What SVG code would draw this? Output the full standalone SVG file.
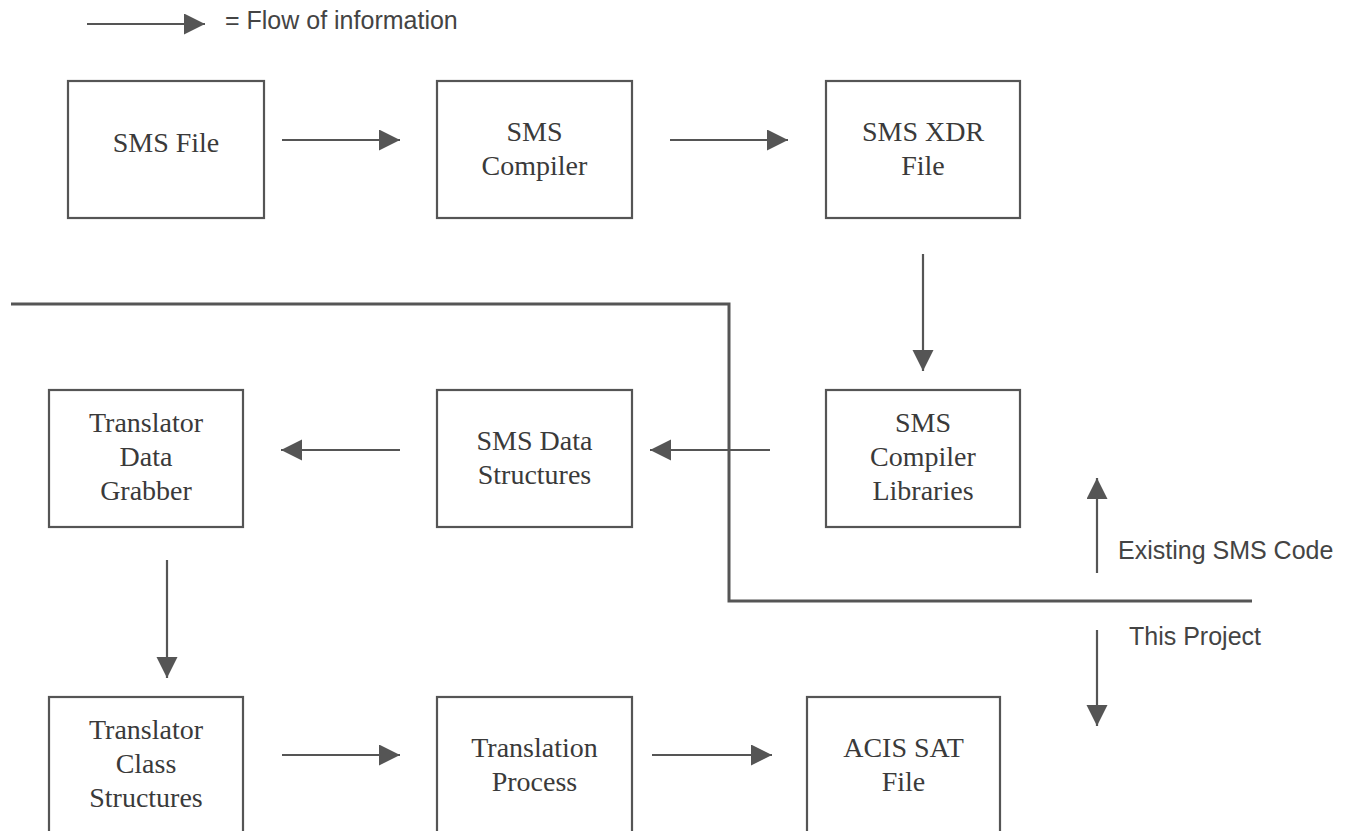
<svg xmlns="http://www.w3.org/2000/svg" width="1354" height="831" viewBox="0 0 1354 831">
  <style>
    .box { fill: none; stroke: #555; stroke-width: 2.2; }
    .lbl { font-family: "Liberation Serif", "Times New Roman", serif; font-size: 28px; fill: #3a3a3a; text-anchor: middle; }
    .note { font-family: "Liberation Sans", Arial, sans-serif; font-size: 25px; fill: #444; }
    .flow { stroke: #555; stroke-width: 2.2; fill: none; marker-end: url(#head); }
    .edge { stroke: #555; stroke-width: 3; fill: none; }
  </style>
  <defs>
    <marker id="head" markerUnits="userSpaceOnUse" markerWidth="22" markerHeight="22" refX="21" refY="10.5" orient="auto">
      <path d="M0,0 L21,10.5 L0,21 z" fill="#555"/>
    </marker>
  </defs>
  <rect width="1354" height="831" fill="#fff"/>

  <!-- legend -->
  <g id="legend">
    <line class="flow" x1="87" y1="24" x2="205" y2="24"/>
    <text class="note" x="225" y="29">= Flow of information</text>
  </g>

  <!-- boundary between existing code and this project -->
  <g id="boundary">
    <polyline class="edge" points="11,304 729,304 729,601 1252,601"/>
    <text class="note" x="1118" y="559">Existing SMS Code</text>
    <text class="note" x="1129" y="645">This Project</text>
  </g>

  <!-- top row -->
  <g id="sms-file">
    <rect class="box" x="68" y="81" width="196" height="137"/>
    <text class="lbl" x="166" y="152">SMS File</text>
  </g>
  <g id="sms-compiler">
    <rect class="box" x="437" y="81" width="195" height="137"/>
    <text class="lbl" x="534.5" y="141">SMS</text>
    <text class="lbl" x="534.5" y="175">Compiler</text>
  </g>
  <g id="sms-xdr-file">
    <rect class="box" x="826" y="81" width="194" height="137"/>
    <text class="lbl" x="923" y="141">SMS XDR</text>
    <text class="lbl" x="923" y="175">File</text>
  </g>

  <!-- middle row -->
  <g id="translator-data-grabber">
    <rect class="box" x="49" y="390" width="194" height="137"/>
    <text class="lbl" x="146" y="432">Translator</text>
    <text class="lbl" x="146" y="466">Data</text>
    <text class="lbl" x="146" y="500">Grabber</text>
  </g>
  <g id="sms-data-structures">
    <rect class="box" x="437" y="390" width="195" height="137"/>
    <text class="lbl" x="534.5" y="450">SMS Data</text>
    <text class="lbl" x="534.5" y="484">Structures</text>
  </g>
  <g id="sms-compiler-libraries">
    <rect class="box" x="826" y="390" width="194" height="137"/>
    <text class="lbl" x="923" y="432">SMS</text>
    <text class="lbl" x="923" y="466">Compiler</text>
    <text class="lbl" x="923" y="500">Libraries</text>
  </g>

  <!-- bottom row -->
  <g id="translator-class-structures">
    <rect class="box" x="49" y="697" width="194" height="140"/>
    <text class="lbl" x="146" y="739">Translator</text>
    <text class="lbl" x="146" y="773">Class</text>
    <text class="lbl" x="146" y="807">Structures</text>
  </g>
  <g id="translation-process">
    <rect class="box" x="437" y="697" width="195" height="140"/>
    <text class="lbl" x="534.5" y="757">Translation</text>
    <text class="lbl" x="534.5" y="791">Process</text>
  </g>
  <g id="acis-sat-file">
    <rect class="box" x="807" y="697" width="193" height="140"/>
    <text class="lbl" x="903.5" y="757">ACIS SAT</text>
    <text class="lbl" x="903.5" y="791">File</text>
  </g>

  <!-- connectors -->
  <g id="connectors">
    <line class="flow" x1="282" y1="140" x2="400" y2="140"/>
    <line class="flow" x1="670" y1="140" x2="788" y2="140"/>
    <line class="flow" x1="923" y1="254" x2="923" y2="371"/>
    <line class="flow" x1="770" y1="450" x2="650" y2="450"/>
    <line class="flow" x1="400" y1="450" x2="281" y2="450"/>
    <line class="flow" x1="167" y1="560" x2="167" y2="678"/>
    <line class="flow" x1="282" y1="755" x2="400" y2="755"/>
    <line class="flow" x1="652" y1="755" x2="772" y2="755"/>
    <line class="flow" x1="1097" y1="573" x2="1097" y2="478"/>
    <line class="flow" x1="1097" y1="630" x2="1097" y2="726"/>
  </g>
</svg>
